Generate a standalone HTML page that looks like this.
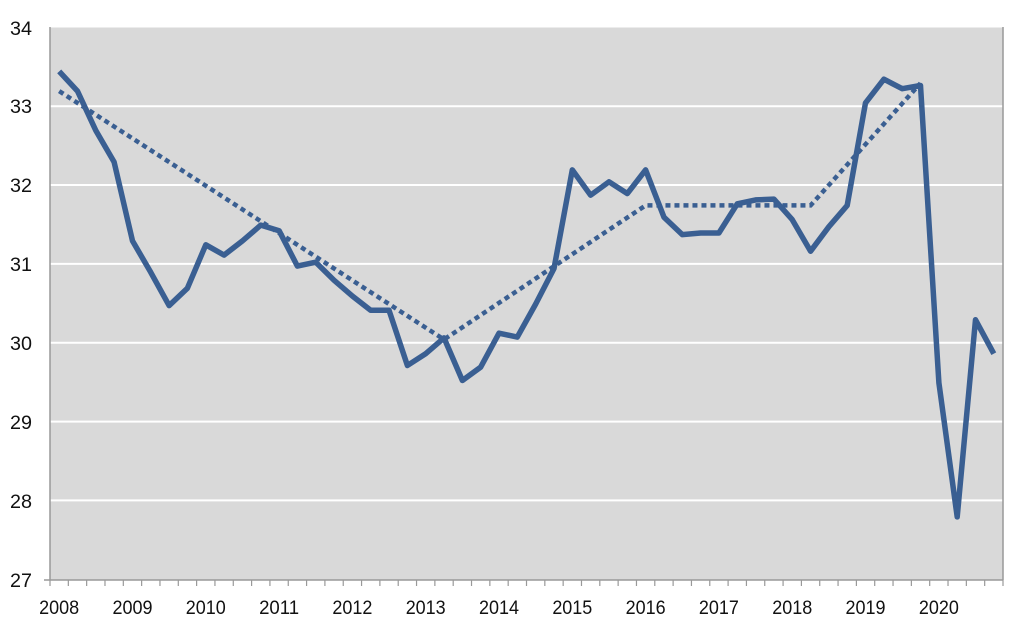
<!DOCTYPE html>
<html><head><meta charset="utf-8"><style>html,body{margin:0;padding:0;background:#fff}svg{display:block}</style></head>
<body>
<svg width="1024" height="633" xmlns="http://www.w3.org/2000/svg" font-family="Liberation Sans, sans-serif">
<rect x="50" y="27.5" width="953" height="552.5" fill="#d9d9d9"/>
<g stroke="#fff" stroke-width="2">
<line x1="50" x2="1003" y1="106.2" y2="106.2"/><line x1="50" x2="1003" y1="185" y2="185"/><line x1="50" x2="1003" y1="263.9" y2="263.9"/><line x1="50" x2="1003" y1="342.7" y2="342.7"/><line x1="50" x2="1003" y1="421.6" y2="421.6"/><line x1="50" x2="1003" y1="500.4" y2="500.4"/>
</g>
<g stroke="#999" stroke-width="1.5" fill="none">
<line x1="50" y1="27" x2="50" y2="580"/><line x1="1003" y1="27" x2="1003" y2="580"/><line x1="44" y1="580" x2="1003" y2="580"/>
</g>
<g id="ticks" stroke="#999" stroke-width="1.2"></g>
<g font-size="19" fill="#111" text-anchor="end" lengthAdjust="spacingAndGlyphs">
<text x="32" y="35" textLength="22" lengthAdjust="spacingAndGlyphs">34</text><text x="32" y="113" textLength="22" lengthAdjust="spacingAndGlyphs">33</text><text x="32" y="192" textLength="22" lengthAdjust="spacingAndGlyphs">32</text><text x="32" y="271" textLength="22" lengthAdjust="spacingAndGlyphs">31</text><text x="32" y="350" textLength="22" lengthAdjust="spacingAndGlyphs">30</text><text x="32" y="429" textLength="22" lengthAdjust="spacingAndGlyphs">29</text><text x="32" y="508" textLength="22" lengthAdjust="spacingAndGlyphs">28</text><text x="32" y="587" textLength="22" lengthAdjust="spacingAndGlyphs">27</text>
</g>
<g id="xl" font-size="19" fill="#111" text-anchor="middle"></g>
<polyline id="trend" fill="none" stroke="#3a5f92" stroke-width="4.5" stroke-dasharray="5,4" points=""/>
<polyline id="main" fill="none" stroke="#3a5f92" stroke-width="5.5" stroke-linejoin="round" points=""/>
<script>
var v=[33.45,33.2,32.7,32.3,31.3,30.9,30.48,30.7,31.25,31.12,31.3,31.5,31.43,30.98,31.03,30.8,30.6,30.42,30.42,29.72,29.87,30.07,29.53,29.7,30.13,30.08,30.5,30.95,32.2,31.88,32.05,31.9,32.2,31.6,31.38,31.4,31.4,31.77,31.82,31.83,31.57,31.17,31.48,31.75,33.05,33.35,33.23,33.27,29.5,27.8,30.3,29.87];
function X(i){return 50+9.16+i*18.327}function Y(d){return 580-(d-27)*78.86}
var p=v.map(function(d,i){return X(i).toFixed(1)+","+Y(d).toFixed(1)}).join(" ");
document.getElementById("main").setAttribute("points",p);
var t=[[0,33.2],[21,30.05],[32,31.75],[41,31.75],[47,33.3]];
document.getElementById("trend").setAttribute("points",t.map(function(a){return X(a[0]).toFixed(1)+","+Y(a[1]).toFixed(1)}).join(" "));
var NS="http://www.w3.org/2000/svg",tk=document.getElementById("ticks"),xl=document.getElementById("xl");
for(var i=0;i<=52;i++){var l=document.createElementNS(NS,"line");var x=50+i*18.327;l.setAttribute("x1",x);l.setAttribute("x2",x);l.setAttribute("y1",580);l.setAttribute("y2",586);tk.appendChild(l);}
for(var y=0;y<13;y++){var s=document.createElementNS(NS,"text");s.setAttribute("x",X(y*4));s.setAttribute("y",614);s.setAttribute("textLength","40");s.setAttribute("lengthAdjust","spacingAndGlyphs");s.textContent=2008+y;xl.appendChild(s);}
</script>
</svg>
</body></html>
